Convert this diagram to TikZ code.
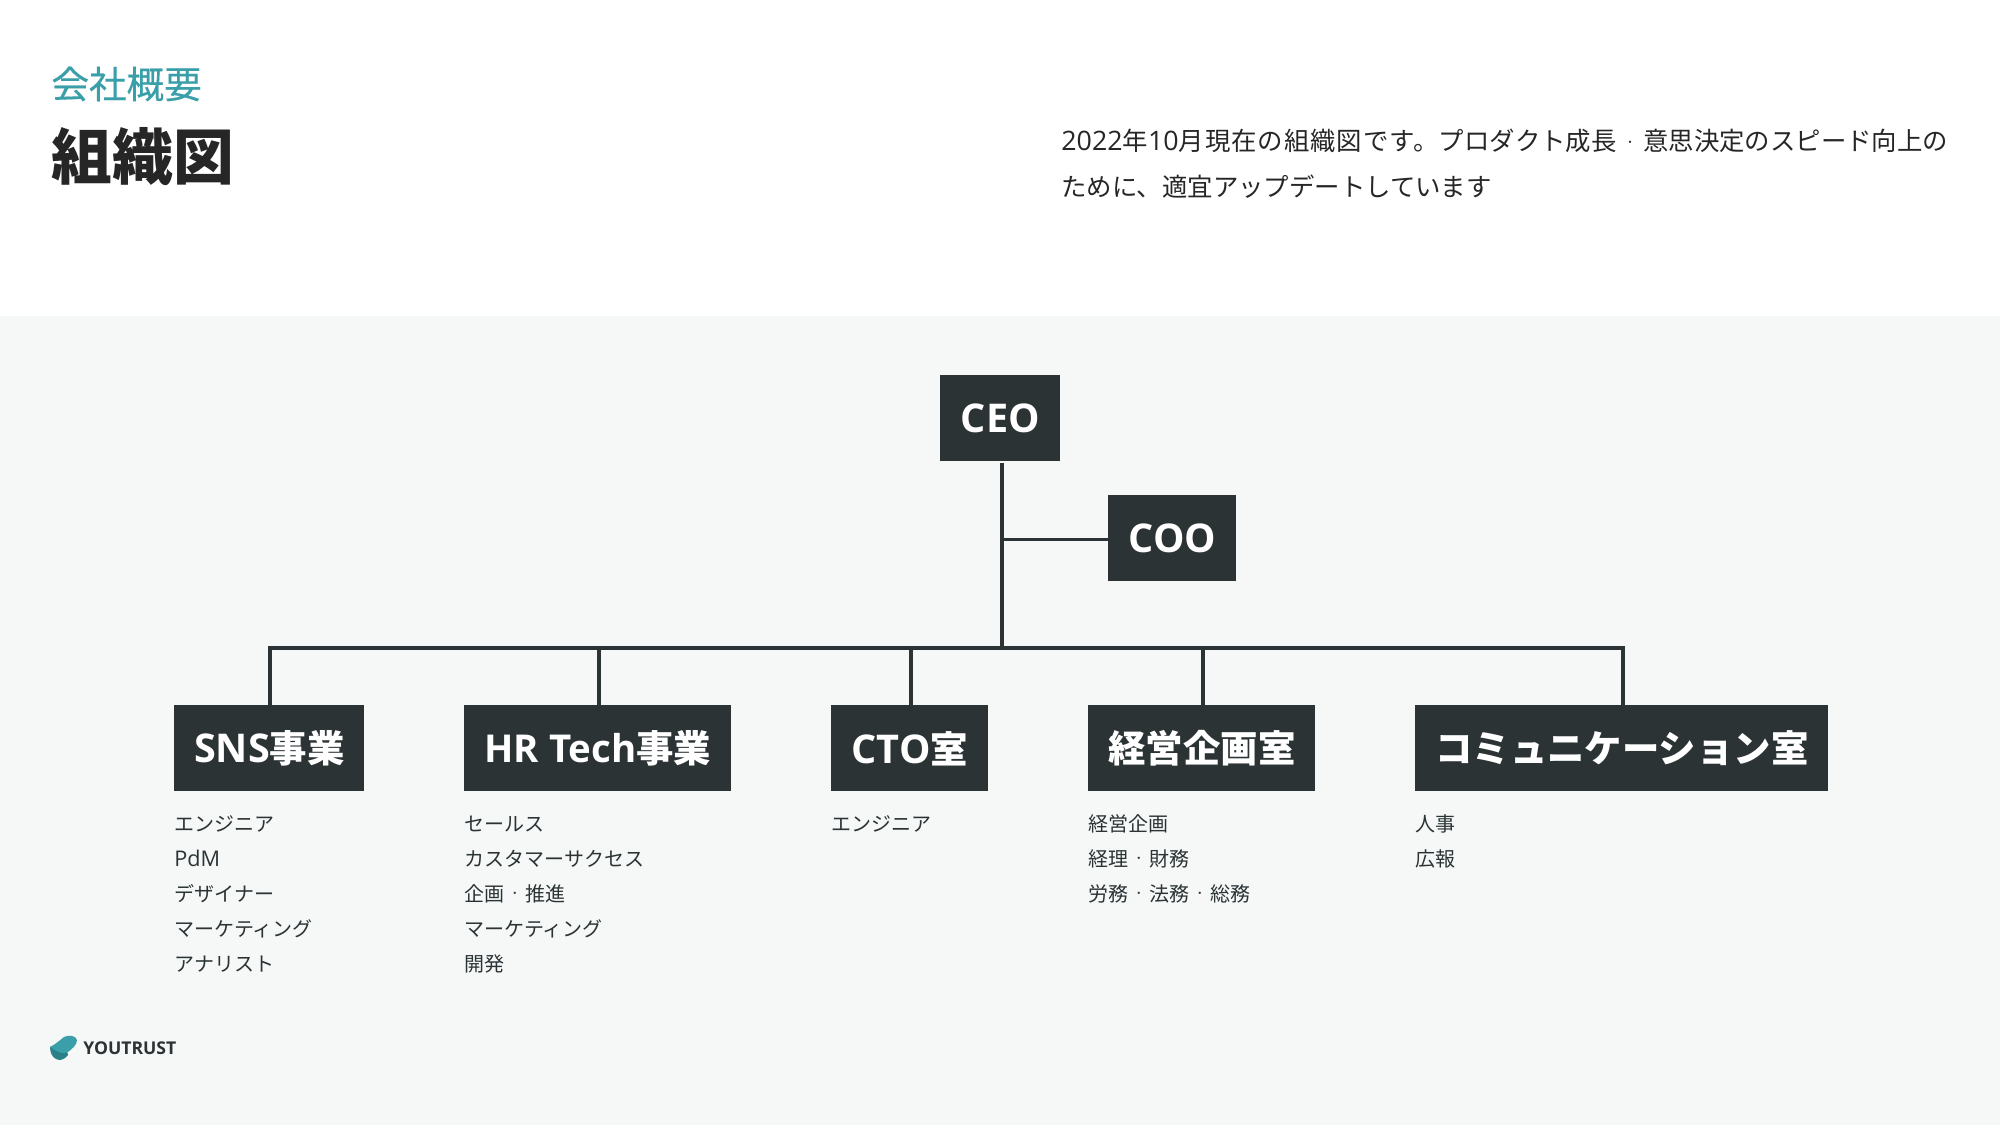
\documentclass[tikz,border=0pt]{standalone}
\usepackage{fontspec}
\setmainfont{Noto Sans CJK JP}
\newfontfamily\latinfont{Open Sans}
\newfontfamily\sectionfont[FakeBold=0.3]{Noto Sans CJK JP}
\newfontfamily\spacedfont[LetterSpace=3.8]{Noto Sans CJK JP}
\usetikzlibrary{positioning}
\definecolor{boxdark}{HTML}{2B3335}
\definecolor{panelbg}{HTML}{F6F8F8}
\definecolor{tealmark}{HTML}{3A9FA8}
\definecolor{tealdark}{HTML}{2A8089}
\newcommand{\middot}{\makebox[1.05em][c]{\raisebox{0.19em}{\fontsize{5.5}{5.5}\selectfont ・}}}
\newcommand{\headlatin}[1]{{\latinfont\fontsize{19.8}{19.8}\selectfont #1}}

\begin{document}
\begin{tikzpicture}[
    x=0.5pt, y=-0.5pt,
    head/.style={fill=boxdark, text=white, inner sep=0pt, minimum height=43pt, anchor=north west,
                 font=\fontsize{18.7}{18.7}\selectfont\bfseries},
    items/.style={anchor=north west, align=left, inner sep=0pt, text=boxdark,
                  font=\fontsize{10}{17.5}\selectfont},
    link/.style={draw=boxdark, line width=2pt},
    thinlink/.style={draw=boxdark, line width=1.5pt},
  ]
    \useasboundingbox (0,0) rectangle (2000,1125);

    % Panel
    \fill[panelbg] (0,316) rectangle (2000,1125);

    % Header
    \node[anchor=west, inner sep=0pt, text=tealmark, font=\sectionfont\fontsize{18.8}{18.8}\selectfont] (section) at (51,84) {会社概要};
    \node[anchor=west, inner sep=0pt, text=black!85, font=\fontsize{30.4}{30.4}\selectfont\bfseries] (title) at (51,157) {組織図};
    \node[anchor=north west, inner sep=0pt, align=left, text=black!85, font=\fontsize{12.7}{23}\selectfont] (intro) at (1061,129)
        {{\latinfont\fontsize{13.4}{23}\selectfont 2022}{\spacedfont 年}{\latinfont\fontsize{13.4}{23}\selectfont 10}{\spacedfont 月現在の組織図です。}プロダクト成長\middot 意思決定のスピード向上の\\ために、適宜アップデートしています};

    % Top
    \node[head, minimum width=60pt] (ceo) at (940,375) {\headlatin{CEO}};
    \node[head, minimum width=64pt] (coo) at (1108,495) {\headlatin{COO}};

    % Departments
    \node[head, minimum width=95pt]    (sns)  at (174,705)  {\headlatin{SNS}事業};
    \node[head, minimum width=133.5pt] (hr)   at (464,705)  {{\latinfont\fontsize{19.2}{19.2}\selectfont HR Tech}事業};
    \node[head, minimum width=78.5pt]  (cto)  at (831,705)  {\headlatin{CTO}室};
    \node[head, minimum width=113.5pt] (plan) at (1088,705) {経営企画室};
    \node[head, minimum width=206.5pt] (comm) at (1415,705) {コミュニケーション室};

    % Lists
    \node[items, below=7.5pt of sns.south west, anchor=north west]  (snslist)  {\strut エンジニア\\{\latinfont\fontsize{10.8}{17.5}\selectfont PdM}\\デザイナー\\マーケティング\\アナリスト};
    \node[items, below=7.5pt of hr.south west, anchor=north west]   (hrlist)   {\strut セールス\\カスタマーサクセス\\企画\middot 推進\\マーケティング\\開発};
    \node[items, below=7.5pt of cto.south west, anchor=north west]  (ctolist)  {\strut エンジニア};
    \node[items, below=7.5pt of plan.south west, anchor=north west] (planlist) {\strut 経営企画\\経理\middot 財務\\労務\middot 法務\middot 総務};
    \node[items, below=7.5pt of comm.south west, anchor=north west] (commlist) {\strut 人事\\広報};

    % Connectors
    \coordinate (stemtop) at (1002,463);
    \coordinate (bus) at (1002,648);
    \coordinate (coojoin) at (1002,539);
    \draw[link] (stemtop) -- (bus);
    \draw[thinlink] (coojoin) -- (coo.west |- coojoin);
    \coordinate (snsdrop) at (270,705);
    \coordinate (commdrop) at (1623,705);
    \draw[link] (snsdrop) |- (bus) -| (commdrop);
    \foreach \dropx/\dept in {599/hr,911/cto,1203/plan}
        \draw[link] (\dropx,648) -- (\dept.north -| \dropx,648);

    % Logo
    \fill[tealdark] (50,1047) .. controls (50,1052) and (52,1057) .. (56,1059)
        .. controls (60,1061) and (64,1060) .. (68,1055) -- (66,1046) -- cycle;
    \fill[tealmark] (50,1047) .. controls (56,1044) and (60,1040) .. (64,1037)
        .. controls (68,1035) and (76,1035) .. (77,1040) .. controls (77,1045) and (72,1049) .. (68,1052)
        .. controls (62,1055) and (56,1051) .. (50,1047) -- cycle;
    \node[anchor=west, inner sep=0pt, text=boxdark, font=\latinfont\fontsize{8.8}{8.8}\selectfont\bfseries] (logo) at (83,1048) {YOUTRUST};
\end{tikzpicture}
\end{document}
